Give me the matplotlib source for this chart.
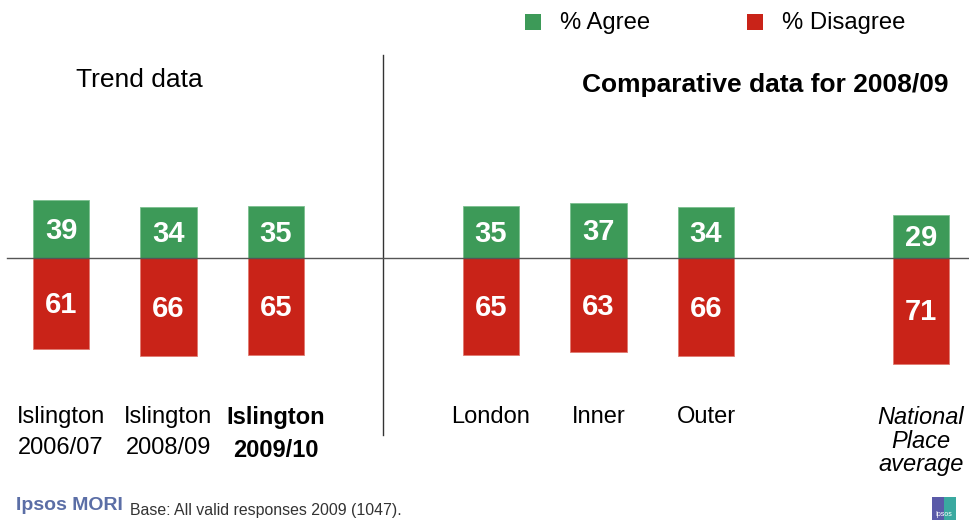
import matplotlib
matplotlib.use("Agg")
import matplotlib.pyplot as plt
from matplotlib.patches import Rectangle

plt.rcParams["font.family"] = ["Liberation Sans", "DejaVu Sans"]

# Survey results: agree on top of the zero line, disagree below it
categories = ["Islington\n2006/07", "Islington\n2008/09", "Islington\n2009/10",
              "London", "Inner", "Outer", "National\nPlace\naverage"]
positions = [0, 1, 2, 4, 5, 6, 8]
agree = [39, 34, 35, 35, 37, 34, 29]
disagree = [61, 66, 65, 65, 63, 66, 71]

GREEN = "#3d9a58"
RED = "#c92318"

W, H = 969, 520
fig = plt.figure(figsize=(W / 100, H / 100), dpi=100)
ax = fig.add_axes([0, 0, 1, 1])
ax.set_axis_off()

# 107.5 px per category slot, 1.49 px per percentage point; zero line 258 px from the top
px_x, px_y, x0, y0 = 107.5, 1.49, 61, 258
ax.set_xlim(-x0 / px_x, (W - x0) / px_x)
ax.set_ylim(-(H - y0) / px_y, y0 / px_y)

bw = 0.53
ax.bar(positions, agree, width=bw, color=GREEN, edgecolor="#7cc08f", linewidth=0.6, zorder=2)
ax.bar(positions, [-d for d in disagree], width=bw, color=RED, edgecolor="#e07a70", linewidth=0.6, zorder=2)

nudge = 1.6 / px_y
for x, a, d in zip(positions, agree, disagree):
    ax.text(x, a / 2 - nudge, str(a), ha="center", va="center", color="white",
            fontsize=21, fontweight="bold", zorder=3)
    ax.text(x, -d / 2 - nudge, str(d), ha="center", va="center", color="white",
            fontsize=21, fontweight="bold", zorder=3)

# zero line and the divider between trend and comparative data
ax.plot([-0.5, 9], [0, 0], color="#555555", linewidth=1.0, zorder=4)
ax.plot([3, 3], [(y0 - 55) / px_y, -(435 - y0) / px_y], color="#333333", linewidth=1.0)

# category labels
for i, (x, lab) in enumerate(zip(positions, categories)):
    y_lab = -(406 - y0) / px_y
    if i == 2:
        ax.text(x, y_lab, lab, ha="center", va="top", fontsize=17, fontweight="bold",
                linespacing=1.55)
    elif i == 6:
        ax.text(x, y_lab, lab, ha="center", va="top", fontsize=17, style="italic",
                linespacing=1.03)
    else:
        ax.text(x, y_lab, lab, ha="center", va="top", fontsize=17, linespacing=1.55)

# headings
fig.text(76 / W, 1 - 80 / H, "Trend data", ha="left", va="center", fontsize=19)
fig.text(948 / W, 1 - 85 / H, "Comparative data for 2008/09", ha="right", va="center",
         fontsize=19, fontweight="bold")

# legend
for sx, color, label in [(525, GREEN, "% Agree"), (747, RED, "% Disagree")]:
    fig.patches.append(Rectangle((sx / W, 1 - 30 / H), 16 / W, 16 / H, transform=fig.transFigure,
                                 facecolor=color, edgecolor="none"))
    fig.text((sx + 35) / W, 1 - 23 / H, label, ha="left", va="center", fontsize=17.2)

# footer
fig.text(16 / W, 1 - 505 / H, "Ipsos MORI", ha="left", va="center", fontsize=14,
         fontweight="bold", color="#5b6ea6")
fig.text(130 / W, 1 - 510 / H, "Base: All valid responses 2009 (1047).", ha="left",
         va="center", fontsize=11.4, color="#333333")
fig.patches.append(Rectangle((932 / W, 0), 12 / W, 23 / H, transform=fig.transFigure,
                             facecolor="#5a5aa8", edgecolor="none"))
fig.patches.append(Rectangle((944 / W, 0), 12 / W, 23 / H, transform=fig.transFigure,
                             facecolor="#3aa9a0", edgecolor="none"))
fig.text(944 / W, 2 / H, "Ipsos", ha="center", va="bottom", fontsize=5, color="white")

fig.savefig("out.png", dpi=100)
